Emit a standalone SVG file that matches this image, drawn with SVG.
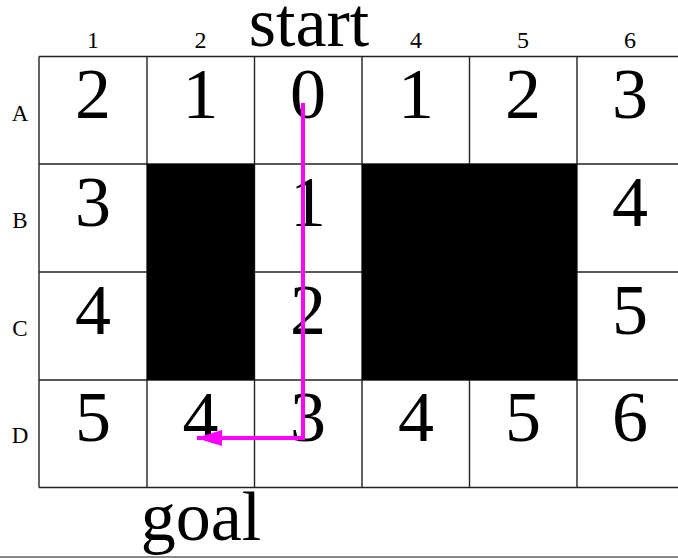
<svg xmlns="http://www.w3.org/2000/svg" width="678" height="558" viewBox="0 0 678 558">
<style>
.n{font-family:"Liberation Serif","Times New Roman",serif;font-size:72px;text-anchor:middle;fill:#000}
.c{font-family:"Liberation Serif","Times New Roman",serif;font-size:24px;text-anchor:middle;fill:#000}
.r{font-family:"Liberation Serif","Times New Roman",serif;font-size:23px;text-anchor:middle;fill:#000}
.big{font-family:"Liberation Serif","Times New Roman",serif;font-size:70px;text-anchor:middle;fill:#000}
.g{stroke:#222;stroke-width:1.4;fill:none}
</style>
<defs>
<marker id="ah" markerWidth="26" markerHeight="16" refX="25" refY="8" orient="auto" markerUnits="userSpaceOnUse">
<path d="M0,0 L26,8 L0,16 Z" fill="#ff00ff"/>
</marker>
</defs>
<rect width="678" height="558" fill="#fff"/>
<g id="grid">
<path class="g" d="M39,56.5 H690 M39,164 H690 M39,272 H690 M39,380 H690 M39,487.5 H690 M39,56.5 V487.5 M147,56.5 V487.5 M254.5,56.5 V487.5 M362,56.5 V487.5 M469.5,56.5 V487.5 M577,56.5 V487.5"/>
</g>
<g id="walls">
<rect x="147" y="164" width="107.5" height="216" fill="#000"/>
<rect x="362" y="164" width="215" height="216" fill="#000"/>
</g>
<g id="col-labels">
<text class="c" x="93" y="48">1</text>
<text class="c" x="200.5" y="48">2</text>
<text class="c" x="416" y="48">4</text>
<text class="c" x="523" y="48">5</text>
<text class="c" x="630" y="48">6</text>
</g>
<g id="row-labels">
<text class="r" x="20" y="121">A</text>
<text class="r" x="20" y="228">B</text>
<text class="r" x="20" y="336">C</text>
<text class="r" x="20" y="443">D</text>
</g>
<g id="start"><text class="big" x="309" y="46">start</text></g>
<g id="goal"><text class="big" x="201" y="540">goal</text></g>
<g id="cells">
<text class="n" x="93" y="118">2</text>
<text class="n" x="200.5" y="118">1</text>
<text class="n" x="308" y="118">0</text>
<text class="n" x="416" y="118">1</text>
<text class="n" x="523" y="118">2</text>
<text class="n" x="630" y="118">3</text>
<text class="n" x="93" y="226">3</text>
<text class="n" x="308" y="226">1</text>
<text class="n" x="630" y="226">4</text>
<text class="n" x="93" y="334">4</text>
<text class="n" x="308" y="334">2</text>
<text class="n" x="630" y="334">5</text>
<text class="n" x="93" y="441">5</text>
<text class="n" x="200.5" y="441">4</text>
<text class="n" x="308" y="441">3</text>
<text class="n" x="416" y="441">4</text>
<text class="n" x="523" y="441">5</text>
<text class="n" x="630" y="441">6</text>
</g>
<g id="connectors">
<path d="M303,103 V438 H197" fill="none" stroke="#ff00ff" stroke-width="4" marker-end="url(#ah)"/>
</g>
<line x1="0" y1="557" x2="678" y2="557" stroke="#888" stroke-width="2"/>
</svg>
